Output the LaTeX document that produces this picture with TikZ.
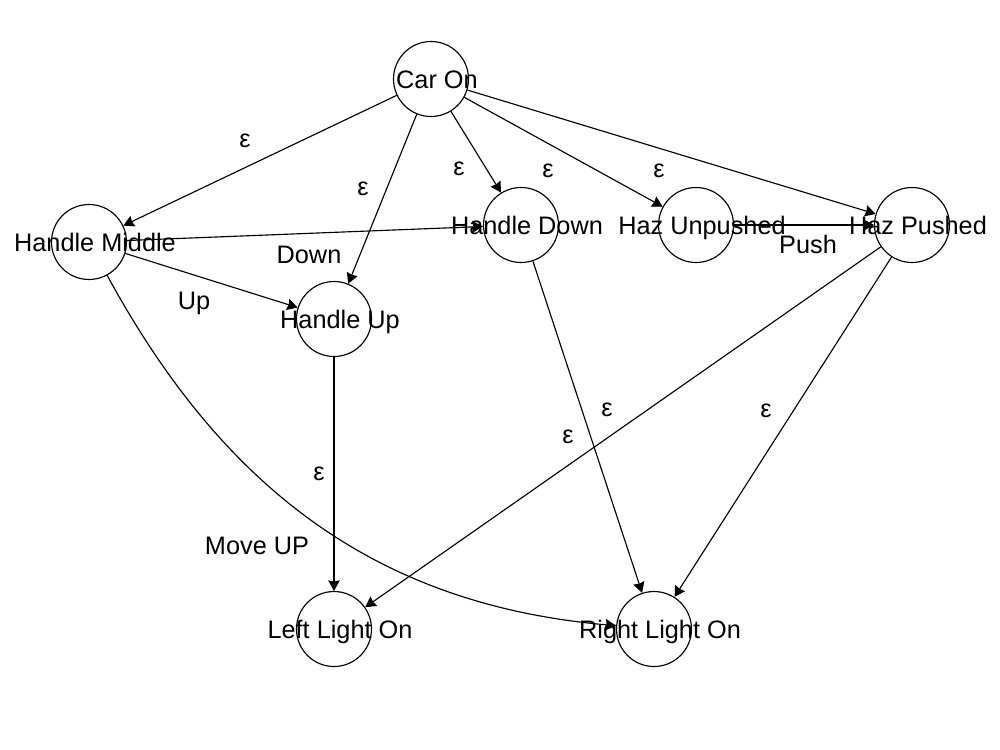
\documentclass[tikz,border=0pt]{standalone}
\usepackage{fontspec}
\setmainfont{Liberation Sans}
\usetikzlibrary{arrows.meta}

\begin{document}
\begin{tikzpicture}[x=0.02cm, y=-0.02cm,
    state/.style={circle, draw, minimum size=1.5cm, inner sep=0pt, line width=0.65pt},
    sname/.style={font=\fontsize{14.4}{17}\selectfont, inner sep=0pt, text height=10.3pt, text depth=0pt, xshift=0.12cm},
    lab/.style={font=\fontsize{14.4}{17}\selectfont, inner sep=0pt},
    word/.style={lab, text height=10.3pt, text depth=0pt},
    trans/.style={-{Stealth[length=0.21cm, width=0.23cm, inset=0.02cm]}, line width=0.65pt}]
    \useasboundingbox (0,0) rectangle (1000,750);

    \node[state, label={[sname]center:Car On}] (caron) at (431,79) {};
    \node[state, label={[sname]center:Handle Middle}] (hmid) at (89,242) {};
    \node[state, label={[sname]center:Handle Down}] (hdown) at (521,225) {};
    \node[state, label={[sname]center:Haz Unpushed}] (hunp) at (696,225) {};
    \node[state, label={[sname]center:Haz Pushed}] (hpush) at (912,225) {};
    \node[state, label={[sname]center:Handle Up}] (hup) at (334,319) {};
    \node[state, label={[sname]center:Left Light On}] (lleft) at (334,629) {};
    \node[state, label={[sname]center:Right Light On}] (lright) at (654,629) {};

    \draw[trans] (caron) to (hmid);
    \draw[trans] (caron) to (hup);
    \draw[trans] (caron) to (hdown);
    \draw[trans] (caron) to (hunp);
    \draw[trans] (caron) to (hpush);
    \draw[trans] (hmid) to (hdown);
    \draw[trans] (hmid) to (hup);
    \draw[trans] (hunp) to (hpush);
    \draw[trans] (hup) to (lleft);
    \draw[trans] (hdown) to (lright);
    \draw[trans] (hpush) to (lleft);
    \draw[trans] (hpush) to (lright);
    \draw[trans] (hmid) to[out=-61.5, in=175] (lright);

    \node[lab] (eps1) at (245,141) {ε};
    \node[lab] (eps2) at (363,189) {ε};
    \node[lab] (eps3) at (459,169) {ε};
    \node[lab] (eps4) at (548,171) {ε};
    \node[lab] (eps5) at (659,171) {ε};
    \node[word] (down) at (309,254) {Down};
    \node[word] (up) at (194,300) {Up};
    \node[word] (push) at (808,244) {Push};
    \node[lab] (eps6) at (319,474) {ε};
    \node[lab] (eps7) at (607,410) {ε};
    \node[lab] (eps8) at (568,437) {ε};
    \node[lab] (eps9) at (766,411) {ε};
    \node[word] (moveup) at (257,545) {Move UP};

\end{tikzpicture}
\end{document}
